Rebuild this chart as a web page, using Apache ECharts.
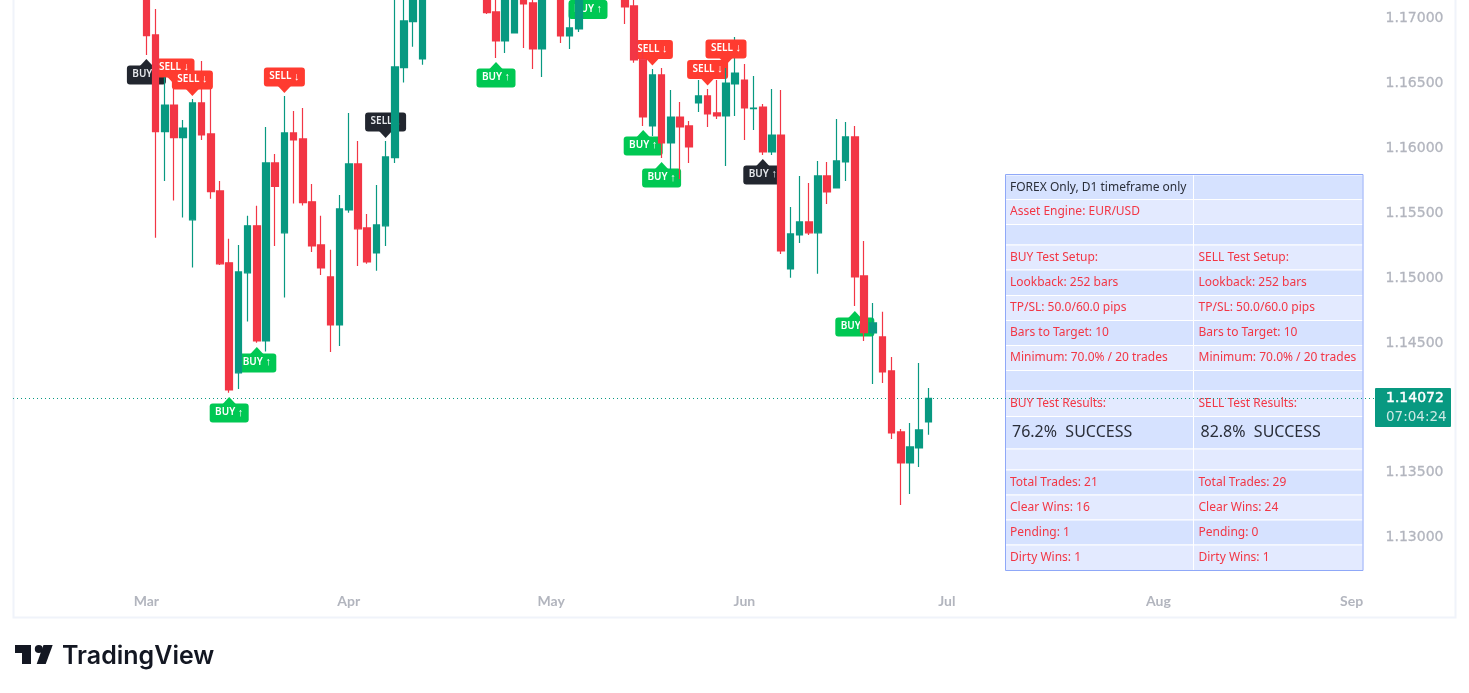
<!DOCTYPE html>
<html>
<head>
<meta charset="utf-8">
<style>html,body{margin:0;padding:0;background:#fff;overflow:hidden}#c{width:1469px;height:693px}</style>
<script src="https://cdn.jsdelivr.net/npm/echarts@6/dist/echarts.min.js"></script>
</head>
<body>
<div id="c"></div>
<script>
// candle values, index 0 = first bar of March; bars above the visible window are estimates
const opens = [1.1745,1.16873,1.16128,1.16333,1.16082,1.15448,1.16349,1.16110,1.15671,1.15117,1.14269,1.15040,1.15402,1.14515,1.15887,1.15348,1.16118,1.16072,1.15587,1.15255,1.15008,1.14638,1.15525,1.15879,1.15386,1.15193,1.15402,1.15928,1.16621,1.16976,1.16688,1.17480,1.1765,1.1745,1.1770,1.1790,1.1770,1.1755,1.17051,1.16827,1.16889,1.1735,1.17120,1.16765,1.1735,1.1750,1.16866,1.16919,1.1735,1.1755,1.1775,1.1760,1.1740,1.17097,1.16686,1.16172,1.16565,1.16041,1.16241,1.16172,1.16349,1.16403,1.16272,1.16249,1.16496,1.16526,1.16305,1.16318,1.15971,1.16102,1.15070,1.15332,1.15432,1.15348,1.15787,1.15694,1.15894,1.16087,1.15016,1.14577,1.14546,1.14284,1.13814,1.13575,1.13690,1.13891];
const closes = [1.16868,1.16128,1.16333,1.16082,1.16156,1.16349,1.16102,1.15665,1.15109,1.14137,1.15047,1.15402,1.14515,1.15887,1.15705,1.16118,1.16064,1.15581,1.15247,1.15078,1.14638,1.15532,1.15879,1.15379,1.15124,1.15409,1.15933,1.16627,1.16981,1.1730,1.1748,1.17650,1.1745,1.1770,1.1790,1.1770,1.1755,1.17045,1.16827,1.1735,1.1720,1.17112,1.16765,1.1735,1.1750,1.16866,1.16927,1.1735,1.1755,1.1775,1.1760,1.1740,1.17089,1.16681,1.16241,1.16565,1.16041,1.16241,1.16164,1.16010,1.16403,1.16264,1.16249,1.16503,1.16580,1.16310,1.16310,1.15971,1.16102,1.15208,1.15340,1.15432,1.15348,1.15787,1.15663,1.15902,1.16087,1.15008,1.14579,1.14654,1.14276,1.13806,1.13575,1.13698,1.13829,1.14072];
const lows = [1.16719,1.15311,1.15748,1.15597,1.15466,1.15080,1.16064,1.15611,1.15101,1.14116,1.14145,1.14664,1.14500,1.14433,1.15247,1.14849,1.15574,1.15558,1.15201,1.15024,1.14430,1.14476,1.15502,1.15093,1.15109,1.15055,1.15247,1.15887,1.16506,1.16783,1.16644,1.1730,1.1735,1.1730,1.1755,1.1750,1.1740,1.17035,1.16696,1.16735,1.16889,1.16773,1.16611,1.16550,1.1722,1.16812,1.16765,1.16896,1.1722,1.1740,1.1745,1.1725,1.16958,1.16658,1.16172,1.16095,1.15925,1.15833,1.15763,1.15887,1.16280,1.16164,1.16226,1.15864,1.16249,1.16064,1.16141,1.15948,1.15948,1.15185,1.15001,1.15270,1.15332,1.15032,1.15571,1.15694,1.15748,1.14785,1.14515,1.14183,1.14191,1.13760,1.13251,1.13336,1.13544,1.13791];
const highs = [1.1765,1.17074,1.16550,1.16457,1.16218,1.16380,1.16673,1.16457,1.15748,1.15302,1.15255,1.15479,1.15556,1.16164,1.15956,1.16403,1.16287,1.16310,1.15725,1.15479,1.15217,1.15640,1.16272,1.16056,1.15494,1.15717,1.16056,1.1730,1.1725,1.1750,1.1765,1.1780,1.1785,1.1790,1.1805,1.1800,1.1785,1.1770,1.1725,1.1750,1.1735,1.1745,1.1725,1.1750,1.1765,1.1760,1.17066,1.1750,1.1770,1.1790,1.1785,1.1770,1.1750,1.1720,1.16760,1.16611,1.16619,1.16449,1.16357,1.16210,1.16526,1.16457,1.16526,1.16619,1.16858,1.16650,1.16557,1.16341,1.16457,1.16449,1.15548,1.15787,1.15733,1.15902,1.15894,1.16226,1.16203,1.16172,1.15286,1.14808,1.14739,1.14392,1.13837,1.13883,1.14345,1.14153];

const lastPrice = 1.14072;
const priceTicks = [1.13, 1.135, 1.14, 1.145, 1.15, 1.155, 1.16, 1.165, 1.17];
const monthLabels = ['Mar','Apr','May','Jun','Jul','Aug','Sep'];
const monthBars = [0, 22, 44, 65, 87, 110, 131];

// signal labels: bar index, tip price, text, kind, side
const sigBars   = [0,3,26,12,48,54,56,55,61,67,77,9,38,5,15,63];
const sigPrices = [1.16688,1.16496,1.16079,1.14469,1.17193,1.16141,1.15894,1.16638,1.16483,1.15918,1.14746,1.14083,1.16665,1.16403,1.16426,1.16642];
const sigWords  = ['BUY','SELL','SELL','BUY','BUY','BUY','BUY','SELL','SELL','BUY','BUY','BUY','BUY','SELL','SELL','SELL'];
const sigDark   = [1,0,1,0,0,0,0,0,0,1,0,0,0,0,0,0];
const sigFront  = [0,0,0,0,0,0,0,0,0,0,0,1,1,1,1,1];

const tableRows = [
  ['FOREX Only, D1 timeframe only',''],
  ['Asset Engine: EUR/USD',''],
  ['',''],
  ['BUY Test Setup:','SELL Test Setup:'],
  ['Lookback: 252 bars','Lookback: 252 bars'],
  ['TP/SL: 50.0/60.0 pips','TP/SL: 50.0/60.0 pips'],
  ['Bars to Target: 10','Bars to Target: 10'],
  ['Minimum: 70.0% / 20 trades','Minimum: 70.0% / 20 trades'],
  ['',''],
  ['BUY Test Results:','SELL Test Results:'],
  ['76.2%  SUCCESS','82.8%  SUCCESS'],
  ['',''],
  ['Total Trades: 21','Total Trades: 29'],
  ['Clear Wins: 16','Clear Wins: 24'],
  ['Pending: 1','Pending: 0'],
  ['Dirty Wins: 1','Dirty Wins: 1']
];

const PAD = 14, BAND = 9.2, BANDS = 148;
const categories = Array.from({length: BANDS}, (_, i) => {
  const m = monthBars.indexOf(i - PAD);
  return m >= 0 ? monthLabels[m] : '';
});
const candleData = [];
for (let i = 0; i < PAD; i++) candleData.push('-');
opens.forEach((o, i) => candleData.push([o, closes[i], lows[i], highs[i]]));

const UP = '#089981', DOWN = '#F23645';
const FONT_T = '"Noto Sans", sans-serif';

function sigSeries(front) {
  const data = [];
  sigBars.forEach((b, i) => {
    if (!!sigFront[i] === front) data.push([b + PAD, sigPrices[i], sigWords[i], sigDark[i]]);
  });
  return {
    type: 'custom', coordinateSystem: 'cartesian2d', z: front ? 5 : 1, clip: false, silent: true,
    encode: {x: 0, y: 1},
    data,
    renderItem(params, api) {
      const p = api.coord([api.value(0), api.value(1)]);
      const word = data[params.dataIndex][2], dark = data[params.dataIndex][3];
      const buy = word === 'BUY';
      const fill = dark ? '#22262F' : (buy ? '#00C853' : '#FF3B30');
      const ink = dark ? '#E6E8EC' : '#FFFFFF';
      const w = buy ? 39 : 41, h = 19, t = 7;
      const top = buy ? p[1] + t - 0.5 : p[1] - t + 0.5 - h;
      const tri = buy
        ? [[p[0] - 7, top + 1], [p[0], p[1]], [p[0] + 7, top + 1]]
        : [[p[0] - 7, top + h - 1], [p[0], p[1]], [p[0] + 7, top + h - 1]];
      return {
        type: 'group',
        children: [
          {type: 'polygon', shape: {points: tri}, style: {fill}},
          {type: 'rect', shape: {x: p[0] - w / 2, y: top, width: w, height: h, r: 3}, style: {fill}},
          {type: 'text', style: {x: p[0], y: top + h / 2 - 0.5,
            text: '{w|' + word + ' }{a|' + (buy ? '↑' : '↓') + '}', align: 'center', verticalAlign: 'middle',
            rich: {
              w: {fill: ink, font: '600 10px "Noto Sans", sans-serif'},
              a: {fill: ink, font: '600 11px "Liberation Sans", sans-serif'}
            }}}
        ]
      };
    }
  };
}

// info table drawn as graphic elements
const TX0 = 1005, TX1 = 1193.5, TX2 = 1363;
const rowEdges = [175,199.5,224.5,245,270,295.5,320.5,345.5,370.5,391,416.5,449,470,495,520,545,570.5];
const graphics = [];
tableRows.forEach((row, r) => {
  const y0 = rowEdges[r], y1 = rowEdges[r + 1];
  const fill = r % 2 === 0 ? '#D6E2FF' : '#E3EAFF';
  graphics.push({type: 'rect', z: 0, silent: true, shape: {x: TX0, y: y0, width: TX1 - TX0, height: y1 - y0}, style: {fill, stroke: '#FFFFFF', lineWidth: 1}});
  graphics.push({type: 'rect', z: 0, silent: true, shape: {x: TX1, y: y0, width: TX2 - TX1, height: y1 - y0}, style: {fill, stroke: '#FFFFFF', lineWidth: 1}});
  const big = r === 10;
  const color = (r === 0 || big) ? '#2A2E39' : '#F23645';
  [0, 1].forEach(c => {
    if (!row[c]) return;
    graphics.push({type: 'text', z: 1, silent: true,
      style: {x: (c ? TX1 : TX0) + (big ? 7 : 5), y: (y0 + y1) / 2, text: row[c], fill: color,
        font: (big ? '16px ' : '12px ') + FONT_T, textVerticalAlign: 'middle', textAlign: 'left'}});
  });
});
graphics.push({type: 'rect', z: 1, silent: true, shape: {x: 1005.5, y: 174.5, width: 357.5, height: 396}, style: {fill: 'none', stroke: '#8FA8F8', lineWidth: 1}});
// chart frame
graphics.push({type: 'polyline', z: 0, silent: true, shape: {points: [[13.5, 0], [13.5, 617.5], [1455.5, 617.5], [1455.5, 0]]}, style: {fill: 'none', stroke: '#F0F3FA', lineWidth: 2}});
// last price tag
graphics.push({type: 'rect', z: 6, silent: true, shape: {x: 1375, y: 388, width: 76, height: 39, r: 1}, style: {fill: UP}});
graphics.push({type: 'text', z: 7, silent: true, style: {x: 1386, y: 398.5, text: lastPrice.toFixed(5), fill: '#FFFFFF', stroke: '#FFFFFF', lineWidth: 0.4, font: '14px "DejaVu Sans", sans-serif', textVerticalAlign: 'middle'}});
graphics.push({type: 'text', z: 7, silent: true, style: {x: 1386, y: 417, text: '07:04:24', fill: '#CDE9E4', font: '13.5px "DejaVu Sans", sans-serif', textVerticalAlign: 'middle'}});
// TradingView mark
graphics.push({type: 'polygon', z: 1, silent: true, shape: {points: [[15, 645], [31, 645], [31, 664], [22, 664], [22, 653], [15, 653]]}, style: {fill: '#131722'}});
graphics.push({type: 'polygon', z: 1, silent: true, shape: {points: [[43.5, 645], [52.7, 645], [45.7, 664], [36.7, 664]]}, style: {fill: '#131722'}});
graphics.push({type: 'circle', z: 1, silent: true, shape: {cx: 38.8, cy: 649, r: 4}, style: {fill: '#131722'}});
graphics.push({type: 'text', z: 1, silent: true, style: {x: 62, y: 656, text: 'TradingView', fill: '#131722', font: '600 25px Inter, sans-serif', textVerticalAlign: 'middle'}});

const chart = echarts.init(document.getElementById('c'));
chart.setOption({
  animation: false,
  backgroundColor: '#FFFFFF',
  grid: {left: 13, top: 0.33, width: BAND * BANDS, height: 537.17},
  xAxis: {
    type: 'category', data: categories, boundaryGap: true,
    axisLine: {show: false}, axisTick: {show: false}, splitLine: {show: false},
    axisLabel: {interval: 0, margin: 57, color: '#B2B5BE', fontFamily: 'Lato, sans-serif', fontWeight: 700, fontSize: 14}
  },
  yAxis: {
    type: 'value', position: 'right', min: priceTicks[0], max: 1.1714, interval: 0.005, scale: true,
    axisLine: {show: false}, axisTick: {show: false}, splitLine: {show: false},
    axisLabel: {margin: 11, padding: [6, 0, 0, 0], color: '#B2B5BE', textBorderColor: '#B2B5BE', textBorderWidth: 0.3, fontFamily: '"DejaVu Sans", sans-serif', fontSize: 14, showMaxLabel: false,
      formatter: v => priceTicks.some(t => Math.abs(t - v) < 1e-6) ? v.toFixed(5) : ''}
  },
  series: [
    sigSeries(false),
    {
      type: 'candlestick', z: 3, barWidth: 7, data: candleData, silent: true, clip: true,
      itemStyle: {color: UP, color0: DOWN, borderColor: UP, borderColor0: DOWN, borderWidth: 1.2},
      markLine: {
        silent: true, symbol: 'none', label: {show: false}, animation: false, z: 2, precision: 5,
        lineStyle: {color: UP, type: [1, 3], width: 1},
        data: [{yAxis: lastPrice}]
      }
    },
    sigSeries(true)
  ],
  graphic: {elements: graphics}
});
</script>
</body>
</html>
